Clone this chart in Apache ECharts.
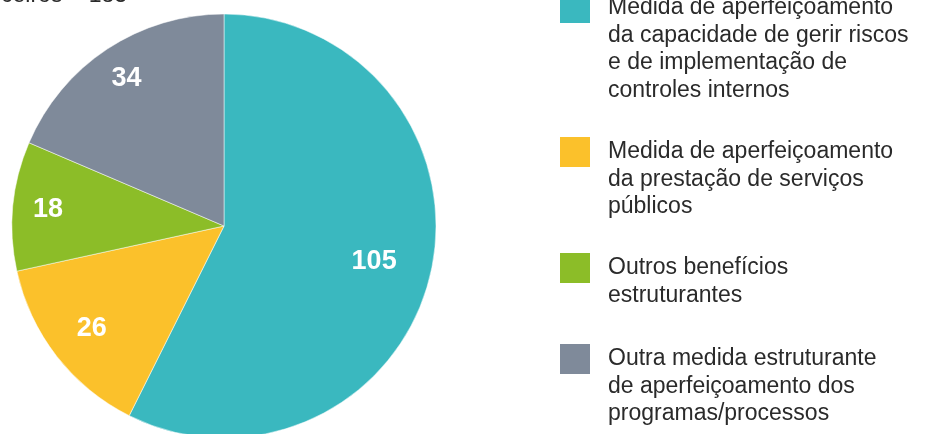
<!DOCTYPE html>
<html>
<head>
<meta charset="utf-8">
<script src="https://cdn.jsdelivr.net/npm/echarts@6/dist/echarts.min.js"></script>
<style>
  html, body {margin: 0; padding: 0; background: #fff;}
  #chart {width: 927px; height: 434px;}
</style>
</head>
<body>
<div id="chart"></div>
<script>
// dados
var categories = [
  'Medida de aperfeiçoamento\nda capacidade de gerir riscos\ne de implementação de\ncontroles internos',
  'Medida de aperfeiçoamento\nda prestação de serviços\npúblicos',
  'Outros benefícios\nestruturantes',
  'Outra medida estruturante\nde aperfeiçoamento dos\nprogramas/processos'
];
var values = [105, 26, 18, 34];
var colors = ['#3ab8bf', '#fbc12b', '#8cbd28', '#7f8a9a'];
var totalLabel = 'Total de benefícios não financeiros = 183';

var FONT = 'Liberation Sans, Arial, Helvetica, sans-serif';
var LINE_H = 27.5;
var CX = 224, CY = 226, R = 212;
// distancia radial de cada rótulo (o padrão 'inside' fica em R/2)
var labelDist = [150, 163, 172, 172];
var iconTops = [-8, 136, 252, 343];

var chart = echarts.init(document.getElementById('chart'));

var legends = categories.map(function (name, i) {
  var lines = name.split('\n').length;
  // o texto fica centrado no quadrado: linhas vazias antes do texto
  // deixam a 1a linha na altura do quadrado
  var pad = new Array(lines).join(' \n');
  var shift = lines > 1 ? (2 * lines - 1) * LINE_H / 2 - 16 : 0;
  return {
    data: [name],
    orient: 'vertical',
    left: 558,
    top: iconTops[i] - shift,
    padding: 0,
    itemWidth: 32,
    itemHeight: 32,
    icon: 'rect',
    selectedMode: false,
    formatter: function (n) { return pad + n; },
    textStyle: {
      fontFamily: FONT,
      fontSize: 23,
      color: '#2a2a2a',
      lineHeight: LINE_H,
      padding: [0, 0, 0, 12]
    }
  };
});

var option = {
  animation: false,
  color: colors,
  legend: legends,
  graphic: [{
    type: 'text',
    x: 127,
    y: -4,
    style: {
      text: totalLabel,
      font: '23px ' + FONT,
      fill: '#2a2a2a',
      align: 'right',
      verticalAlign: 'middle'
    }
  }],
  series: [{
    type: 'pie',
    center: [CX, CY],
    radius: R,
    startAngle: 90,
    clockwise: true,
    silent: true,
    itemStyle: {borderColor: '#fff', borderWidth: 0.5},
    label: {
      show: true,
      position: 'inside',
      formatter: '{c}',
      color: '#fff',
      fontFamily: FONT,
      fontWeight: 'bold',
      fontSize: 27
    },
    labelLine: {show: false},
    labelLayout: function (p) {
      var r = p.labelRect;
      var x = r.x + r.width / 2, y = r.y + r.height / 2;
      var k = labelDist[p.dataIndex] / (R / 2) - 1;
      return {dx: (x - CX) * k, dy: (y - CY) * k};
    },
    data: categories.map(function (name, i) {
      return {name: name, value: values[i]};
    })
  }]
};

chart.setOption(option);
</script>
</body>
</html>
